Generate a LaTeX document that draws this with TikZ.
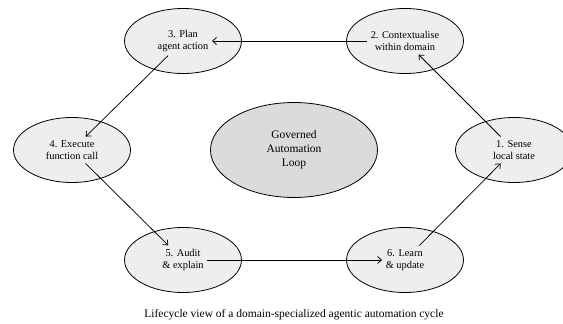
\documentclass[tikz,border=0pt]{standalone}
\usepackage{fontspec}
\setmainfont{Liberation Serif}
\usepackage{tikz}
\usetikzlibrary{shapes.geometric,backgrounds,arrows.meta}

\begin{document}
\begin{tikzpicture}[
  x=1pt,y=-1pt,
  stage/.style={inner sep=3.5pt,align=center,font=\fontsize{10.4}{12.5}\selectfont},
  blob/.style={draw,line width=0.8pt,ellipse,fill=gray!13,minimum width=117pt,minimum height=65pt,inner sep=0pt},
  hub/.style={draw,line width=0.8pt,ellipse,fill=gray!28,minimum width=167pt,minimum height=95pt,
    inner sep=0pt,align=center,font=\fontsize{11.5}{14}\selectfont},
  to/.style={-{Straight Barb[length=4pt,width=7pt]},line width=0.75pt}]

  \useasboundingbox (0,0) rectangle (563,324);

  % Position the stages round the loop
  \node[hub] (loop) at (294,150) {Governed\\Automation\\Loop};
  \node[stage] (sense) at (514,150) {1. Sense\\local state};
  \node[stage] (context) at (405,41) {2. Contextualise\\within domain};
  \node[stage] (plan) at (183,41) {3. Plan\\agent action};
  \node[stage] (exec) at (72,150) {4. Execute\\function call};
  \node[stage] (audit) at (183,260) {5. Audit\\\& explain};
  \node[stage] (learn) at (405,260) {6. Learn\\\& update};

  % Ellipses behind the stage texts
  \begin{scope}[on background layer]
    \foreach \s in {sense,context,plan,exec,audit,learn}
      \node[blob] at (\s) {};
  \end{scope}

  % Draw the arrows between the stages
  \draw[to] (sense) -- (context);
  \draw[to] (context) -- (plan);
  \draw[to] (plan) -- (exec);
  \draw[to] (exec) -- (audit);
  \draw[to] (audit) -- (learn);
  \draw[to] (learn) -- (sense);

  \node[font=\fontsize{11.5}{14}\selectfont] (caption) at (294,315)
    {Lifecycle view of a domain-specialized agentic automation cycle};
\end{tikzpicture}
\end{document}
